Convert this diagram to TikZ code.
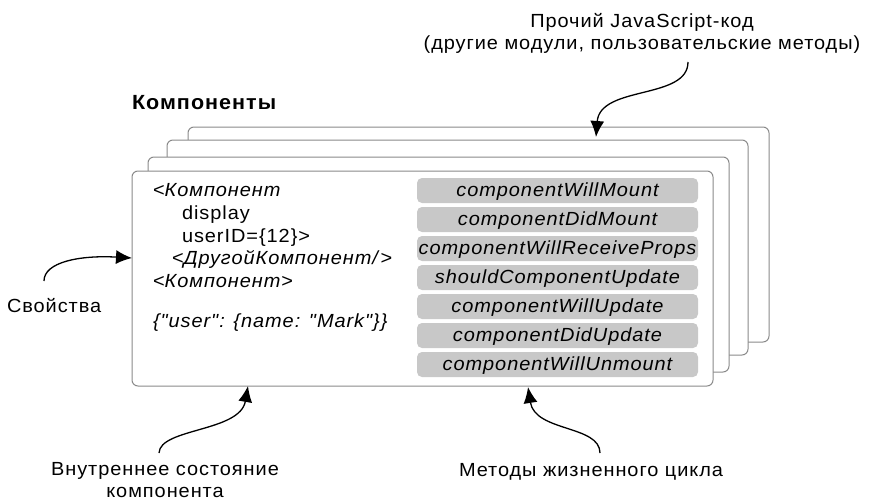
\documentclass[tikz,border=0pt]{standalone}
\usepackage{fontspec}
\setmainfont{Liberation Sans}[FakeStretch=1.05,LetterSpace=5]
% same face without TeX ligatures, so that " stays a straight quote
\newfontfamily\plainquotes{Liberation Sans}[FakeStretch=1.05,LetterSpace=5]
\usetikzlibrary{arrows.meta}
\definecolor{cardline}{HTML}{8A8A8A}
\definecolor{pillfill}{HTML}{C8C8C8}
\begin{document}
\begin{tikzpicture}[x=1pt,y=-1pt,
  every node/.style={inner sep=0pt, outer sep=0pt, font=\fontsize{19}{22}\selectfont},
  card/.style={draw=cardline, line width=1pt, fill=white, rounded corners=6pt,
    anchor=north west, minimum width=581pt, minimum height=215pt},
  pill/.style={fill=pillfill, rounded corners=5pt, minimum width=281pt,
    minimum height=25pt, text height=14pt, text depth=3pt,
    font=\fontsize{19}{22}\selectfont\itshape},
  codeline/.style={anchor=base west},
  caption/.style={anchor=base, align=center},
  conn/.style={-{Latex[length=16pt,width=14pt]}, line width=1.3pt}
]
\useasboundingbox (0,0) rectangle (869,500);

% stack of component cards, back to front
\node[card] (card4) at (188,127) {};
\node[card] (card3) at (167,140) {};
\node[card] (card2) at (148,157) {};
\node[card] (card1) at (132,171) {};

\node[anchor=base west, font=\fontsize{20.5}{22}\selectfont\bfseries] (title) at (132,110) {Компоненты};

% JSX and state of the front component
\node[codeline] (l1) at (153,196) {<\textit{Компонент}};
\node[codeline] (l2) at (182,219) {display};
\node[codeline] (l3) at (182,242) {userID=\{12\}>};
\node[codeline] (l4) at (172,264) {<\textit{ДругойКомпонент/}>};
\node[codeline] (l5) at (153,287) {<\textit{Компонент}>};
\node[codeline, font=\fontsize{19}{22}\plainquotes\itshape] (l6) at (153,327) {\{"user": \{name: "Mark"\}\}};

% lifecycle methods
\foreach \name [count=\i from 0] in {componentWillMount, componentDidMount,
    componentWillReceiveProps, shouldComponentUpdate, componentWillUpdate,
    componentDidUpdate, componentWillUnmount}
  \node[pill] (m\i) at (557.5,190.5+29*\i) {\name};

% callout labels (base anchor sits on the last line)
\node[caption] (js) at (642,50) {Прочий JavaScript-код\\(другие модули, пользовательские методы)};
\node[anchor=base west] (props) at (7,312) {Свойства};
\node[caption] (state) at (165,497) {Внутреннее состояние\\компонента};
\node[caption] (life) at (591,476) {Методы жизненного цикла};

% connector ends
\coordinate (jsStart) at (688,62);
\coordinate (jsTip) at (596,137);
\coordinate (propsStart) at (44,281);
\coordinate (propsTip) at (132,258);
\coordinate (stateStart) at (159,453);
\coordinate (stateTip) at (248,386);
\coordinate (lifeStart) at (600,453);
\coordinate (lifeTip) at (528,387);

\draw[conn] (jsStart) .. controls (688,100) and (600,85) .. (jsTip);
\draw[conn] (propsStart) .. controls (44,262) and (80,255) .. (propsTip);
\draw[conn] (stateStart) .. controls (160,428) and (240,432) .. (stateTip);
\draw[conn] (lifeStart) .. controls (600,425) and (535,432) .. (lifeTip);
\end{tikzpicture}
\end{document}
